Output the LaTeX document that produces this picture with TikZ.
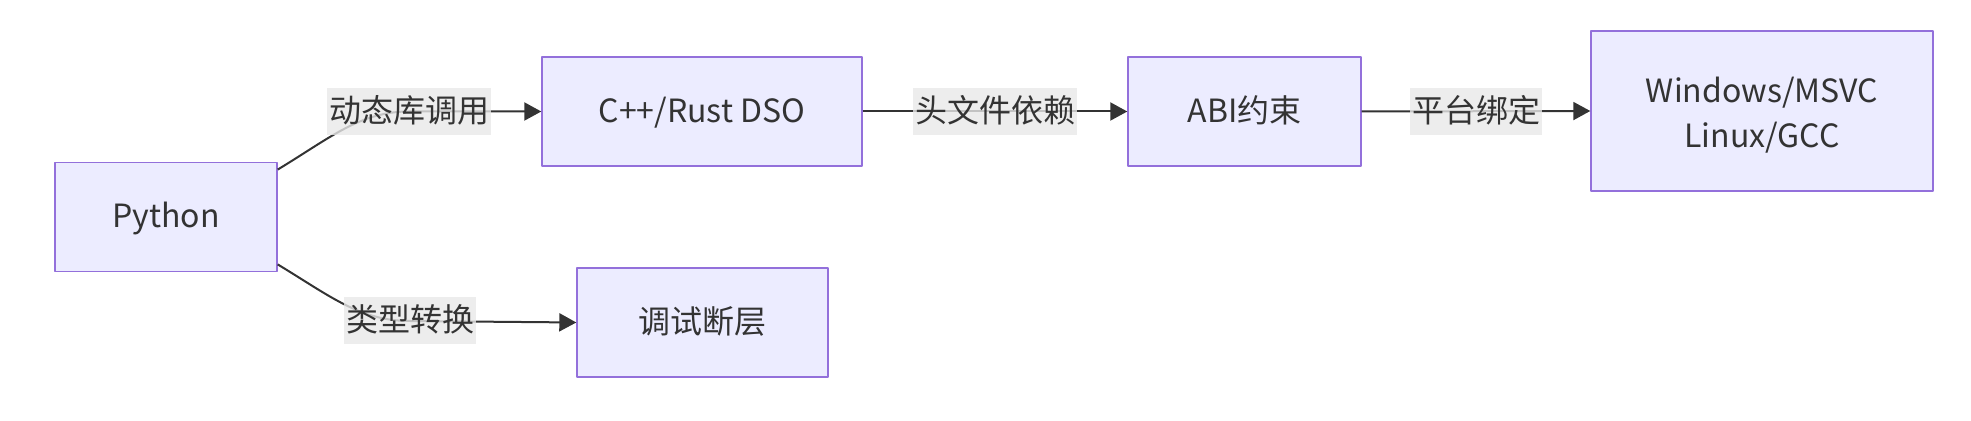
\documentclass[tikz,border=0pt]{standalone}
\usepackage{fontspec}
\setmainfont{Noto Sans CJK SC}
\usetikzlibrary{arrows.meta}
\definecolor{boxfill}{HTML}{ECECFF}
\definecolor{boxline}{HTML}{9370DB}
\definecolor{ink}{HTML}{333333}
\definecolor{lblfill}{HTML}{E8E8E8}
\begin{document}
\begin{tikzpicture}[x=0.5pt, y=-0.5pt, font=\fontsize{16}{22.5}\selectfont, text=ink, line join=round, >={Triangle[length=8.5pt,width=9pt]},
	box/.style={draw=boxline, line width=0.7pt, fill=boxfill, minimum height=54.5pt, align=center, inner sep=0pt, text height=16pt, text depth=5pt},
	lbl/.style={fill=lblfill, fill opacity=0.8, text opacity=1, inner xsep=1pt, inner ysep=0pt, minimum height=23.5pt, text height=16pt, text depth=5pt},
	link/.style={draw=ink, line width=1pt, ->}]
	\useasboundingbox (0,0) rectangle (1971,421);
	\node[box, minimum width=111pt] (py) at (166,217) {Python};
	\node[box, minimum width=160pt] (cpp) at (702,111.5) {C++/Rust DSO};
	\node[box, minimum width=116.5pt] (abi) at (1244.5,111.5) {ABI约束};
	\node[box, minimum width=171pt, minimum height=80pt, text height=41.6pt, text depth=5pt] (win) at (1762,111) {Windows/MSVC\\Linux/GCC};
	\node[box, minimum width=125.5pt] (dbg) at (702.5,322.5) {调试断层};
	% connectors
	\draw[link] (py.23) .. controls (330,138) and (360,111.5) .. (409,111.5) node[lbl] (l1) {动态库调用} -- (cpp.west);
	\draw[link] (cpp.east) -- node[lbl] (l2) {头文件依赖} (abi.west);
	\draw[link] (abi.east) -- node[lbl] (l3) {平台绑定} (win.west);
	\draw[link] (py.-23) .. controls (330,296) and (360,321) .. (410,321) node[lbl] (l4) {类型转换} -- (dbg.west);
\end{tikzpicture}
\end{document}
